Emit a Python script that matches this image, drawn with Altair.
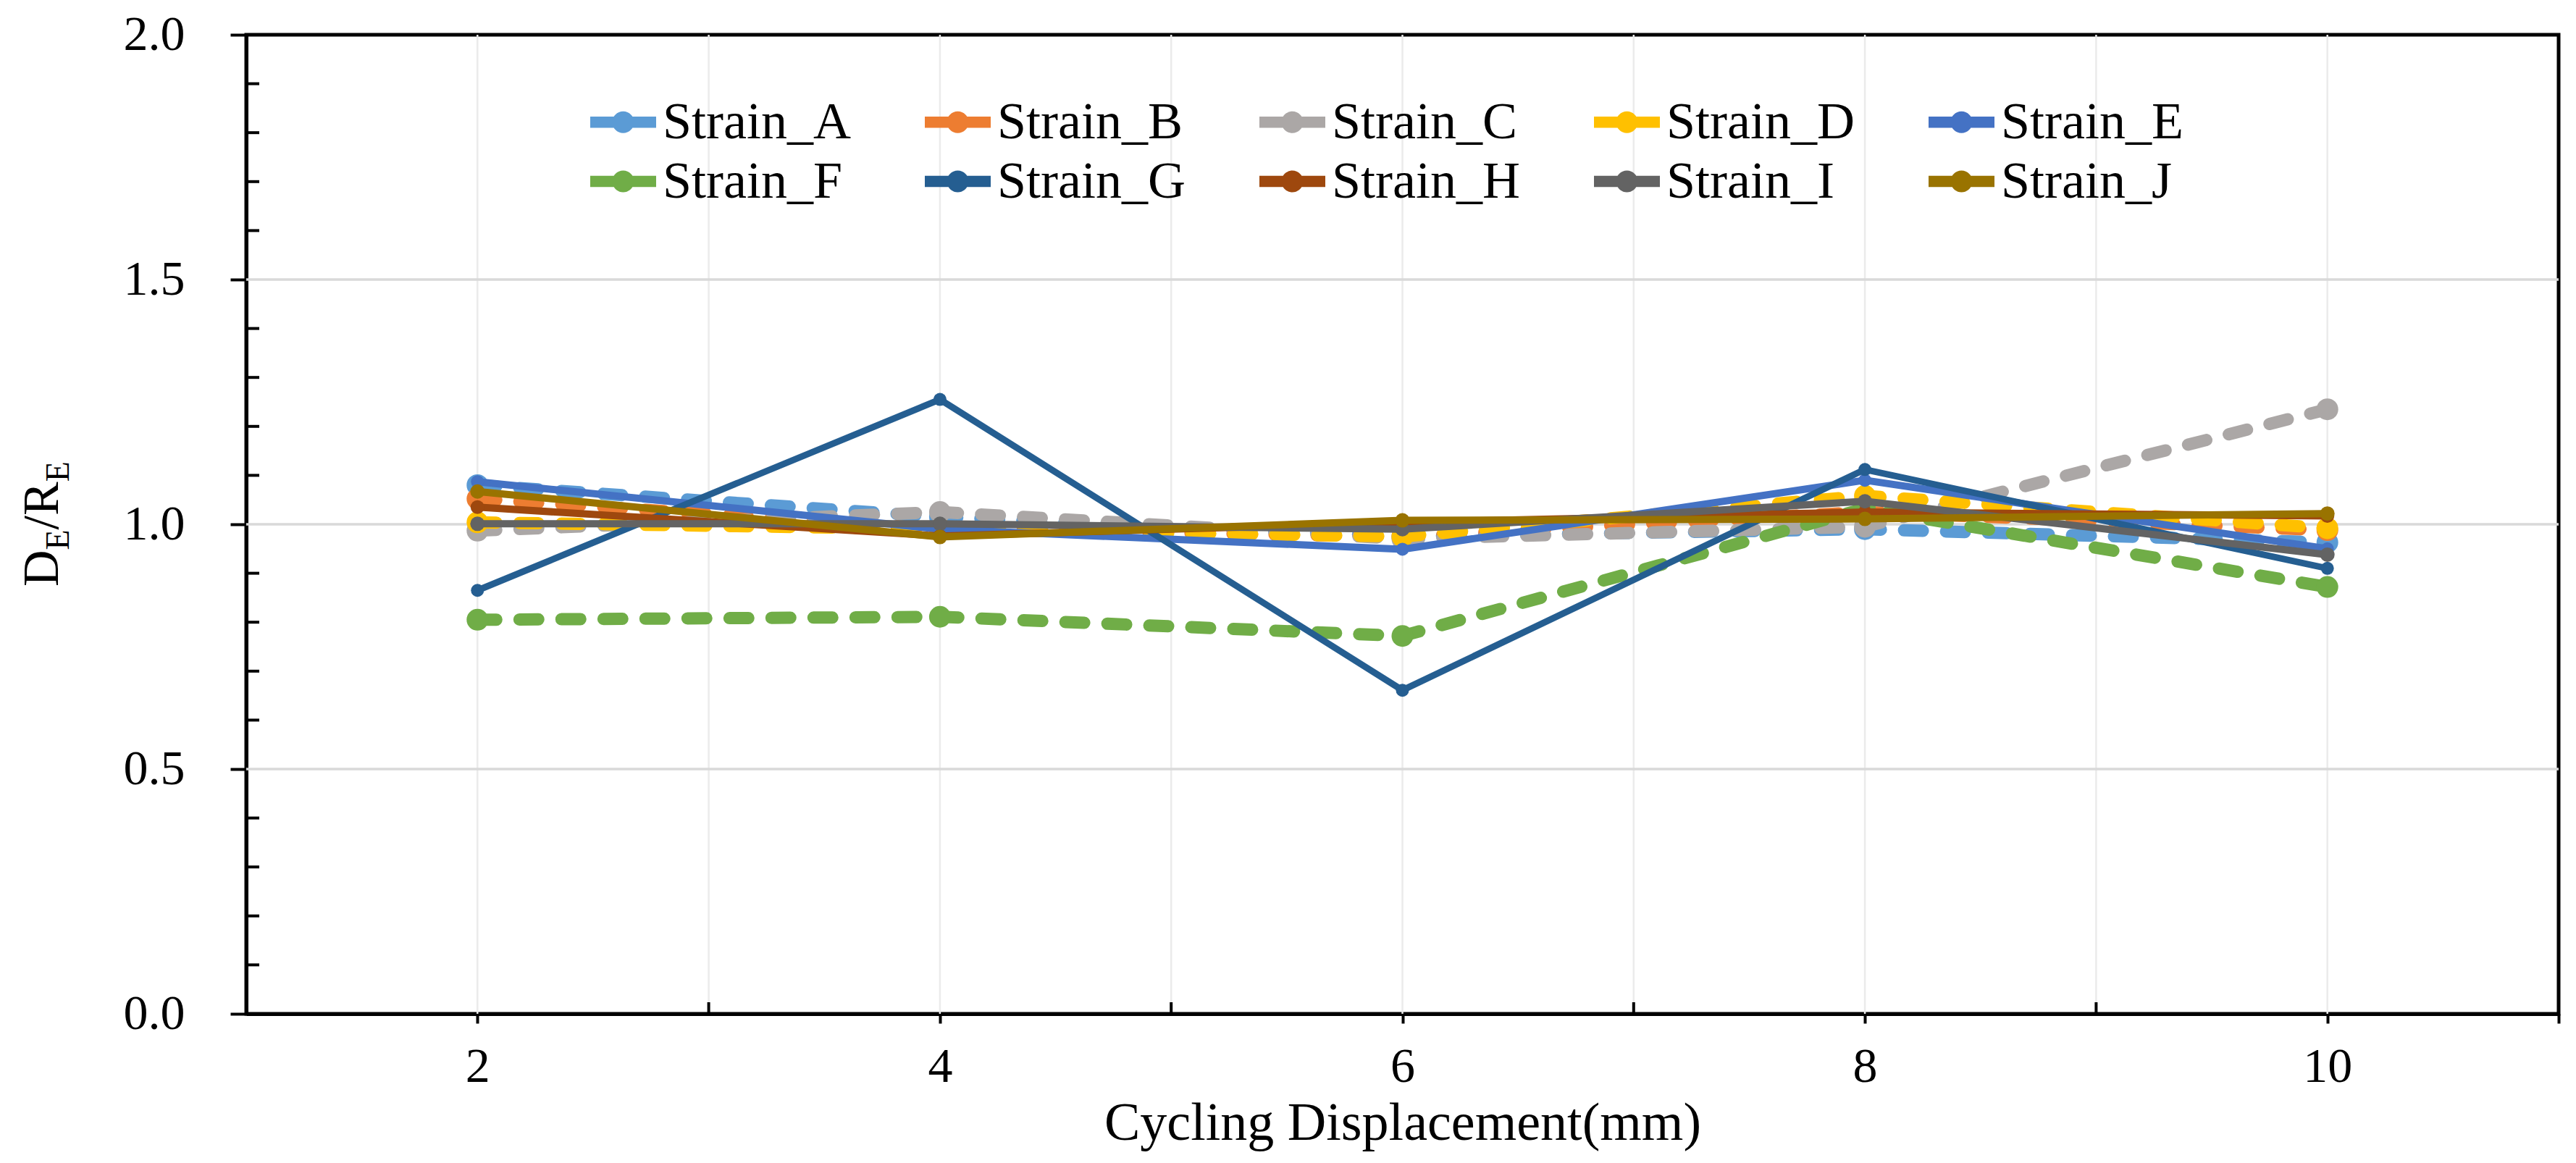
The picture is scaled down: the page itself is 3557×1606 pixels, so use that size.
import altair as alt
import pandas as pd

# ---------------- data ----------------
displacement = [2, 4, 6, 8, 10]
strains = ["Strain_A", "Strain_B", "Strain_C", "Strain_D", "Strain_E",
           "Strain_F", "Strain_G", "Strain_H", "Strain_I", "Strain_J"]
strain_A = [1.080, 1.015, 0.975, 0.990, 0.963]
strain_B = [1.052, 0.990, 0.975, 1.025, 0.988]
strain_C = [0.987, 1.025, 0.970, 0.995, 1.235]
strain_D = [1.004, 0.990, 0.975, 1.058, 0.992]
strain_E = [1.087, 0.990, 0.949, 1.090, 0.950]
strain_F = [0.805, 0.811, 0.772, 1.032, 0.872]
strain_G = [0.865, 1.255, 0.661, 1.112, 0.910]
strain_H = [1.035, 0.976, 1.004, 1.025, 1.017]
strain_I = [1.001, 1.001, 0.990, 1.047, 0.938]
strain_J = [1.067, 0.974, 1.008, 1.011, 1.022]
values = [strain_A, strain_B, strain_C, strain_D, strain_E,
          strain_F, strain_G, strain_H, strain_I, strain_J]

x_tick_values = [2, 4, 6, 8, 10, 11]
x_minor_ticks = [3, 5, 7, 9]
x_grid = [2, 3, 4, 5, 6, 7, 8, 9, 10]
y_tick_values = [0.0, 0.5, 1.0, 1.5, 2.0]
y_minor_ticks = [0.1, 0.2, 0.3, 0.4, 0.6, 0.7, 0.8, 0.9,
                 1.1, 1.2, 1.3, 1.4, 1.6, 1.7, 1.8, 1.9]
y_grid = [0.5, 1.0, 1.5]

# ---------------- styles ----------------
colors = ["#5B9BD5", "#ED7D31", "#ABA7A6", "#FFC000", "#4472C4",
          "#70AD47", "#255E91", "#9E480E", "#636363", "#997300"]
dashed = [True, True, True, True, False, True, False, False, False, False]
line_w = [17, 17, 17, 17, 10, 17, 9, 10, 10, 10]
pt_size = [900, 900, 900, 900, 324, 900, 324, 361, 400, 400]

FONT = "Liberation Serif"
W, H = 3193, 1352

rows = []
for s, vals in zip(strains, values):
    for xv, yv in zip(displacement, vals):
        rows.append({"strain": s, "x": xv, "v": yv})
df = pd.DataFrame(rows)

xs = alt.Scale(domain=[1, 11], nice=False, zero=False)
ys = alt.Scale(domain=[0, 2], nice=False, zero=False)
cs = alt.Scale(domain=strains, range=colors)

x_axis = alt.Axis(values=x_tick_values, labelExpr="datum.value == 11 ? '' : datum.label",
                  format="d", tickSize=13, tickWidth=4, tickColor="black",
                  domainColor="black", domainWidth=5, grid=False,
                  labelFontSize=68, labelFont=FONT, labelColor="black", labelPadding=26,
                  labelFlush=False, labelOverlap=False,
                  title="Cycling Displacement(mm)", titleFont=FONT, titleFontSize=74,
                  titleFontWeight="normal", titleColor="black", titlePadding=8)
y_axis = alt.Axis(values=y_tick_values, format=".1f", tickSize=22, tickWidth=4,
                  tickColor="black", domainColor="black", domainWidth=5, grid=False,
                  labelFontSize=68, labelFont=FONT, labelColor="black", labelPadding=63,
                  labelFlush=False, labelOverlap=False, title=None)

X = alt.X("x:Q", scale=xs, axis=x_axis)
Y = alt.Y("v:Q", scale=ys, axis=y_axis)

layers = []

# grid lines (vertical first, horizontal on top)
vgrid = alt.Chart(pd.DataFrame({"x": x_grid})).mark_rule(color="#EBEBEB", strokeWidth=2.5).encode(x=X)
hgrid = alt.Chart(pd.DataFrame({"v": y_grid})).mark_rule(color="#D9D9D9", strokeWidth=3.3).encode(y=Y)
layers += [vgrid, hgrid]

# inside minor ticks
ymin = alt.Chart(pd.DataFrame({"v": y_minor_ticks})).mark_rule(color="black", strokeWidth=4).encode(
    y=Y, x=alt.value(0), x2=alt.value(18))
xmin = alt.Chart(pd.DataFrame({"x": x_minor_ticks})).mark_rule(color="black", strokeWidth=4).encode(
    x=X, y=alt.value(H), y2=alt.value(H - 16))
layers += [ymin, xmin]

legend_path = ("M-1,-0.17H1V0.17H-1Z "
               "M-0.33,0A0.33,0.33,0,1,1,0.33,0A0.33,0.33,0,1,1,-0.33,0Z")
legend = alt.Legend(title=None, orient="none", legendX=475, legendY=75, direction="horizontal",
                    columns=5, columnPadding=102, rowPadding=-6, padding=0,
                    symbolType=legend_path, symbolSize=8281, symbolStrokeWidth=0,
                    symbolOpacity=1, labelFont=FONT, labelFontSize=72, labelColor="black",
                    labelOffset=9, labelLimit=600)
color_enc = alt.Color("strain:N", scale=cs, legend=legend)

for i, s in enumerate(strains):
    base = alt.Chart(df).transform_filter(alt.datum.strain == s)
    line_kw = dict(strokeWidth=line_w[i], strokeCap="round", strokeJoin="round", color=colors[i])
    if dashed[i]:
        line_kw["strokeDash"] = [26, 32]
    ln = base.mark_line(**line_kw).encode(x=X, y=Y)
    pt = base.mark_point(filled=True, shape="circle", size=pt_size[i], opacity=1).encode(
        x=X, y=Y, color=color_enc)
    layers += [ln, pt]

# y-axis title D_E/R_E with subscripts
one = pd.DataFrame({"a": [0]})
def ytxt(t, yv, xv, size):
    return alt.Chart(one).mark_text(angle=270, align="left", baseline="alphabetic",
                                    font=FONT, fontSize=size, color="black").encode(
        x=alt.value(xv), y=alt.value(yv), text=alt.value(t))

layers += [ytxt("D", 762, -260, 70), ytxt("E", 711.5, -245, 46),
           ytxt("/R", 683.5, -260, 70), ytxt("E", 617.3, -245, 46)]

chart = alt.layer(*layers).properties(
    width=W, height=H,
    autosize=alt.AutoSizeParams(type="none"),
    padding={"left": 332, "top": 40, "right": 16, "bottom": 190},
    background="white",
).configure_view(stroke="black", strokeWidth=5)

chart.save("out.html", embed_options={"renderer": "svg", "actions": False})
